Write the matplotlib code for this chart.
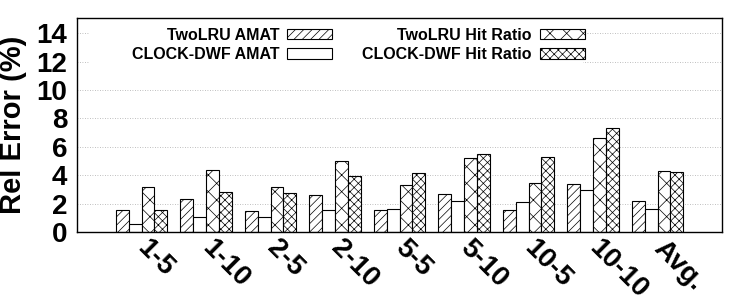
import matplotlib
matplotlib.use("Agg")
import matplotlib.pyplot as plt
from matplotlib.patches import Rectangle
import numpy as np

plt.rcParams['font.family'] = ['Liberation Sans', 'DejaVu Sans']
plt.rcParams['hatch.linewidth'] = 0.5
plt.rcParams['hatch.color'] = '#555555'

groups = ['1-5', '1-10', '2-5', '2-10', '5-5', '5-10', '10-5', '10-10', 'Avg.']
twolru_amat = [1.55, 2.33, 1.47, 2.64, 1.53, 2.71, 1.54, 3.41, 2.17]
clock_amat = [0.57, 1.03, 1.03, 1.56, 1.61, 2.17, 2.08, 2.99, 1.61]
twolru_hit = [3.2, 4.38, 3.2, 5.01, 3.34, 5.22, 3.43, 6.62, 4.31]
clock_hit = [1.53, 2.85, 2.73, 3.97, 4.18, 5.50, 5.29, 7.32, 4.20]

series = [
    ('TwoLRU AMAT', twolru_amat, '////'),
    ('CLOCK-DWF AMAT', clock_amat, ''),
    ('TwoLRU Hit Ratio', twolru_hit, 'xx'),
    ('CLOCK-DWF Hit Ratio', clock_hit, 'xxxx'),
]

fig = plt.figure(figsize=(7.5, 3.0), dpi=100)
ax = fig.add_axes([0.1027, 0.2267, 0.86, 0.7133])

x = np.arange(len(groups))
w = 0.2
for i, (name, vals, hatch) in enumerate(series):
    ax.bar(x + (i - 1.5) * w, vals, w, label=name, facecolor='white',
           edgecolor='black', linewidth=0.8, hatch=hatch)

ax.set_xlim(-1.0, 9.0)
ax.set_ylim(0, 15.07)
ax.set_yticks(range(0, 15, 2))
ax.grid(axis='y', linestyle=(0, (1, 2)), color='#aaaaaa', linewidth=0.6)
ax.set_axisbelow(True)
ax.tick_params(axis='y', length=0, labelsize=20, pad=7)
ax.tick_params(axis='x', length=0, pad=9)
for lab in ax.get_yticklabels():
    lab.set_fontweight('bold')

ax.set_xticks(x)
ax.set_xticklabels(groups, rotation=-45, ha='left', va='center',
                   rotation_mode='anchor', fontsize=20, fontweight='bold')

ax.set_ylabel('Rel Error (%)', fontsize=21, fontweight='bold', labelpad=7)

# white key box hides the grid behind the legend
ax.add_patch(Rectangle((0.02, 0.766), 0.765, 0.2, transform=ax.transAxes,
                       facecolor='white', edgecolor='none', zorder=1))

leg = ax.legend(ncol=2, loc='upper left', bbox_to_anchor=(0.085, 0.955),
                frameon=False, markerfirst=False,
                prop={'size': 11.5, 'weight': 'bold'},
                handlelength=2.8, handleheight=0.65, handletextpad=0.5,
                columnspacing=1.9, labelspacing=0.3,
                borderpad=0, borderaxespad=0)
for t in leg.get_texts():
    t.set_ha('right')

for s in ax.spines.values():
    s.set_linewidth(1.0)

fig.savefig('out.png', dpi=100)
